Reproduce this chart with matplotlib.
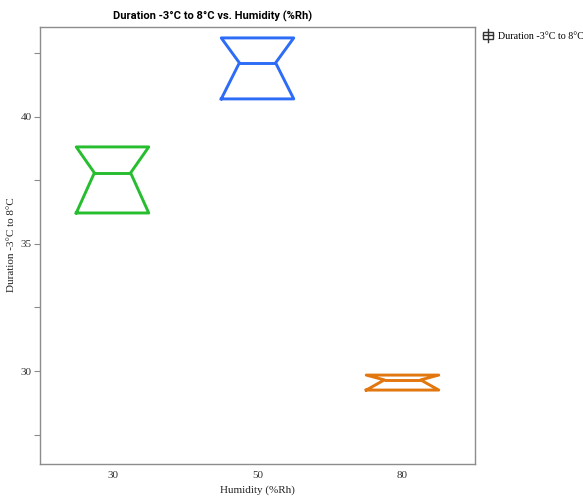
import matplotlib.pyplot as plt
from matplotlib.legend_handler import HandlerBase
from matplotlib.lines import Line2D
from matplotlib.patches import Rectangle

# notched box summary per humidity level
humidity = ["30", "50", "80"]
q1 = [36.22, 40.71, 29.25]
median = [37.80, 42.13, 29.65]
q3 = [38.82, 43.11, 29.84]
colors = ["#26bd2e", "#2c6cf6", "#e2760f"]

SERIF = "Liberation Serif"
GRAY = "#8c8c8c"


class BoxIconHandler(HandlerBase):
    def create_artists(self, legend, orig_handle, xdescent, ydescent,
                       width, height, fontsize, trans):
        cx = width / 2 - xdescent
        cy = height / 2 - ydescent
        w, h = 7, 5
        box = Rectangle((cx - w / 2, cy - h / 2), w, h, fill=False,
                        edgecolor="#333333", lw=1.0, transform=trans)
        stem = Line2D([cx, cx], [cy - h, cy + h], color="#333333", lw=1.0,
                      transform=trans)
        mid = Line2D([cx - w / 2, cx + w / 2], [cy, cy], color="#333333",
                     lw=1.0, transform=trans)
        return [box, stem, mid]


stats = []
for i in range(len(humidity)):
    stats.append({
        "q1": q1[i], "med": median[i], "q3": q3[i],
        "cilo": q1[i], "cihi": q3[i],
        "whislo": q1[i], "whishi": q3[i], "fliers": [],
    })

fig = plt.figure(figsize=(5.83, 4.98), dpi=100)
ax = fig.add_axes([40 / 583, 34 / 498, 435 / 583, 437 / 498])

bp = ax.bxp(stats, positions=range(len(humidity)), widths=0.5,
            shownotches=True, showcaps=False, showfliers=False,
            patch_artist=False)
for i, c in enumerate(colors):
    bp["boxes"][i].set_color(c)
    bp["boxes"][i].set_linewidth(2.1)
    bp["medians"][i].set_color(c)
    bp["medians"][i].set_linewidth(2.1)
    for w in bp["whiskers"][2 * i:2 * i + 2]:
        w.set_visible(False)

ax.set_xlim(-0.5, 2.5)
ax.set_ylim(26.34, 43.54)
ax.set_xticks(range(len(humidity)))
ax.set_xticklabels(humidity)
ax.set_yticks([30, 35, 40])
ax.set_yticks([27.5, 32.5, 37.5, 42.5], minor=True)
ax.tick_params(axis="x", length=0, pad=5)
ax.tick_params(axis="y", which="both", direction="out", color=GRAY,
               length=4, width=0.8, pad=2)
for lab in ax.get_xticklabels() + ax.get_yticklabels():
    lab.set_fontfamily(SERIF)
    lab.set_fontsize(8)
    lab.set_color("#333333")
for s in ax.spines.values():
    s.set_color(GRAY)
    s.set_linewidth(1.0)

ax.set_xlabel("Humidity (%Rh)", fontfamily=SERIF, fontsize=8,
              color="#222222", labelpad=4)
fig.text(12 / 583, 1 - 245 / 498, "Duration -3°C to 8°C", rotation=90,
         ha="center", va="center", fontfamily=SERIF, fontsize=8,
         color="#222222")
fig.text(213 / 583, 1 - 16 / 498, "Duration -3°C to 8°C vs. Humidity (%Rh)",
         ha="center", va="center", fontfamily="Roboto", fontweight="bold",
         fontsize=8)

handle = Line2D([], [])
fig.legend([handle], ["Duration -3°C to 8°C"], handler_map={Line2D: BoxIconHandler()},
           loc="upper left", bbox_to_anchor=(479 / 583, 1 - 28 / 498),
           frameon=False, prop={"family": SERIF, "size": 7.2},
           handlelength=1.0, handletextpad=0.5, borderaxespad=0)

fig.savefig("out.png", dpi=100)
